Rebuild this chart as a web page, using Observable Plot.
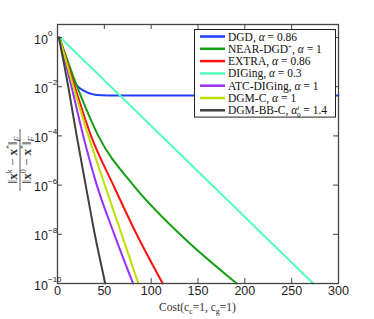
<!DOCTYPE html>
<html><head><meta charset="utf-8">
<script src="https://cdn.jsdelivr.net/npm/d3@7"></script>
<script src="https://cdn.jsdelivr.net/npm/@observablehq/plot@0.6"></script>
<style>body{margin:0;background:#fff} svg{display:block}</style>
</head><body><div id="chart"></div>
<script>
// Series names, colours and legend parameters
const seriesNames = ["DGD", "NEAR-DGD", "EXTRA", "DIGing", "ATC-DIGing", "DGM-C", "DGM-BB-C"];
const nameSup = ["", "+", "", "", "", "", ""];
const alphaValues = ["0.86", "1", "0.86", "0.3", "1", "1", "1.4"];
const seriesColors = ["#1f3dff", "#14a014", "#ff1010", "#55ffbb", "#9a30ff", "#bde000", "#404040"];

// Cost values and log10 of relative error
const dgdCost = [2, 10, 14, 18, 22, 27, 32, 38, 47, 60, 300];
const dgdLog = [0, -1.0, -1.5, -1.82, -2.0, -2.14, -2.24, -2.31, -2.35, -2.36, -2.36];
const nearCost = [2, 21, 43.6, 80.9, 130.8, 191.3];
const nearLog = [0, -2, -4, -6, -8, -10];
const extraCost = [2, 18.5, 35.8, 59.6, 84.5, 112.3];
const extraLog = [0, -2, -4, -6, -8, -10];
const digingCost = [3, 273];
const digingLog = [0, -10];
const atcCost = [2, 15, 27.5, 42, 60.6, 80.7];
const atcLog = [0, -2, -4, -6, -8, -10];
const dgmcCost = [2, 17, 33, 50.5, 68.5, 86.3];
const dgmcLog = [0, -2, -4, -6, -8, -10];
const bbCost = [1.5, 11.5, 20.5, 30.1, 39.8, 51];
const bbLog = [0, -2, -4, -6, -8, -10];

const xTicks = [0, 50, 100, 150, 200, 250, 300];
const yTickExps = [0, -2, -4, -6, -8, -10];

const costs = [dgdCost, nearCost, extraCost, digingCost, atcCost, dgmcCost, bbCost];
const logs = [dgdLog, nearLog, extraLog, digingLog, atcLog, dgmcLog, bbLog];
const rows = [];
seriesNames.forEach((s, i) => costs[i].forEach((c, j) => rows.push({series: s, cost: c, err: Math.pow(10, logs[i][j])})));
const yTicks = yTickExps.map(e => Math.pow(10, e));

const W = 374, H = 319, mL = 57, mR = 36, mT = 24, mB = 36;
const innerW = W - mL - mR, innerH = H - mT - mB;
const frameColor = "#444";

const chart = Plot.plot({
  width: W, height: H, marginLeft: mL, marginRight: mR, marginTop: mT, marginBottom: mB,
  style: {fontFamily: "'Liberation Sans', Arial, sans-serif", fontSize: "12px", background: "white", color: "#222"},
  x: {domain: [0, 300], axis: null},
  y: {type: "log", domain: [1e-10, Math.pow(10, 0.53)], axis: null},
  color: {domain: seriesNames, range: seriesColors},
  marks: [
    Plot.line(rows, {x: "cost", y: "err", z: "series", stroke: "series", strokeWidth: 2, curve: "monotone-x"}),
    Plot.frame({stroke: frameColor, strokeWidth: 1.3}),
    Plot.tickX(xTicks, {x: d => d, insetTop: innerH - 5, stroke: frameColor}),
    Plot.tickX(xTicks, {x: d => d, insetBottom: innerH - 5, stroke: frameColor}),
    Plot.tickY(yTicks, {y: d => d, insetRight: innerW - 5, stroke: frameColor}),
    Plot.tickY(yTicks, {y: d => d, insetLeft: innerW - 5, stroke: frameColor}),
    Plot.text(xTicks, {x: d => d, frameAnchor: "bottom", dy: 11, text: d => String(d), fontSize: 12.5, fill: "#222"}),
    Plot.text(yTicks, {y: d => d, frameAnchor: "left", dx: -9.5, dy: 2, textAnchor: "end", text: () => "10", fontSize: 12.5, fill: "#222"}),
    Plot.text(yTickExps, {y: e => Math.pow(10, e), frameAnchor: "left", dx: -9.5, dy: -4, textAnchor: "start", text: e => e === 0 ? "0" : "\u2212" + Math.abs(e), fontSize: 8, fill: "#222"})
  ]
});

const svg = d3.select(chart);
const serif = "'Liberation Serif', 'DejaVu Serif', serif";

// Legend
const lg = svg.append("g").attr("font-family", serif).attr("font-size", 11.5).attr("text-anchor", "start");
const lx0 = 194, ly0 = 29, lw = 141, rowH = 12.3;
lg.append("rect").attr("x", lx0 + 0.5).attr("y", ly0 + 0.5).attr("width", lw).attr("height", rowH * seriesNames.length + 1.5)
  .attr("fill", "white").attr("stroke", "#222").attr("stroke-width", 1);
seriesNames.forEach((s, i) => {
  const cy = ly0 + 7.5 + i * rowH;
  lg.append("line").attr("x1", lx0 + 6).attr("x2", lx0 + 31).attr("y1", cy).attr("y2", cy)
    .attr("stroke", seriesColors[i]).attr("stroke-width", 2.5);
  const t = lg.append("text").attr("x", lx0 + 34).attr("y", cy + 4).attr("fill", "#111").attr("text-anchor", "start");
  t.append("tspan").text(s);
  if (nameSup[i]) t.append("tspan").attr("font-size", 7).attr("dy", -4).text(nameSup[i]);
  t.append("tspan").attr("dy", nameSup[i] ? 4 : 0).text(", ");
  t.append("tspan").attr("font-style", "italic").text("\u03b1");
  if (i === seriesNames.length - 1) {
    t.append("tspan").attr("font-size", 7).attr("font-style", "italic").attr("dy", -4).text("i");
    t.append("tspan").attr("font-size", 7).attr("dx", -2.3).attr("dy", 6.5).text("0");
    t.append("tspan").attr("dy", -2.5).text(" = " + alphaValues[i]);
  } else {
    t.append("tspan").text(" = " + alphaValues[i]);
  }
});

// X axis label
const xl = svg.append("text").attr("x", mL + innerW / 2).attr("y", 311).attr("text-anchor", "middle")
  .attr("font-family", serif).attr("font-size", 11.5).attr("fill", "#333");
xl.append("tspan").text("Cost(c");
xl.append("tspan").attr("font-size", 8).attr("dy", 2.5).text("c");
xl.append("tspan").attr("dy", -2.5).text("=1, c");
xl.append("tspan").attr("font-size", 8).attr("dy", 2.5).text("g");
xl.append("tspan").attr("dy", -2.5).text("=1)");

// Y axis label (fraction)
const yl = svg.append("g").attr("transform", "translate(20,160) rotate(-90)")
  .attr("font-family", serif).attr("font-size", 13).attr("fill", "#333").attr("text-anchor", "middle");
function normText(y, sup) {
  const t = yl.append("text").attr("x", 0).attr("y", y).attr("text-anchor", "middle");
  t.append("tspan").text("\u2016");
  t.append("tspan").attr("font-weight", "bold").text("x");
  t.append("tspan").attr("font-size", 8).attr("dy", -5).text(sup);
  t.append("tspan").attr("dy", 5).text(" \u2212 ");
  t.append("tspan").attr("font-weight", "bold").text("x");
  t.append("tspan").attr("font-size", 8).attr("dy", -5).text("*");
  t.append("tspan").attr("dy", 5).text("\u2016");
  t.append("tspan").attr("font-size", 8).attr("font-style", "italic").attr("dy", 3).text("F");
}
normText(-3.5, "k");
normText(11, "0");
yl.append("line").attr("x1", -31).attr("x2", 31).attr("y1", 0).attr("y2", 0).attr("stroke", "#333").attr("stroke-width", 0.8);

document.getElementById("chart").appendChild(chart);
</script>
</body></html>
